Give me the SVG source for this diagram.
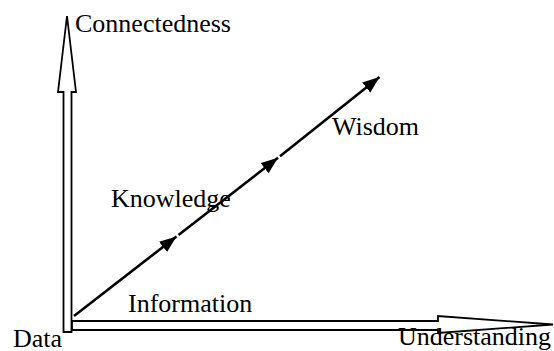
<svg xmlns="http://www.w3.org/2000/svg" width="554" height="351" viewBox="0 0 554 351">
  <style>
    .label { font-family: "Liberation Serif", "Times New Roman", serif; font-size: 26px; fill: #000; }
    .axis { fill: #fff; stroke: #000; stroke-width: 1.8; stroke-linejoin: miter; }
    .flow { stroke: #000; stroke-width: 2.6; fill: none; marker-end: url(#head); }
  </style>
  <defs>
    <marker id="head" markerUnits="userSpaceOnUse" markerWidth="18" markerHeight="14" refX="17" refY="6.5" orient="auto">
      <path d="M0,0 L17,6.5 L0,13 Z" fill="#000"/>
    </marker>
  </defs>

  <rect width="554" height="351" fill="#fff"/>

  <g id="connectors">
    <!-- hollow axis arrows -->
    <polygon id="axis-y" class="axis" points="63.5,332 63.5,92 58,92 67,16 76,92 71.5,92 71.5,332"/>
    <polygon id="axis-x" class="axis" points="72,321 438,321 438,316 553,324.5 438,333 438,330 72,330"/>
    <!-- progression line: data to wisdom -->
    <line class="flow" x1="74" y1="316" x2="176.5" y2="236.5"/>
    <line class="flow" x1="178.5" y1="235" x2="278" y2="157.8"/>
    <line class="flow" x1="280" y1="156.3" x2="379.5" y2="77"/>
  </g>

  <g id="connectedness"><text class="label" x="75" y="32">Connectedness</text></g>
  <g id="data"><text class="label" x="13" y="346.5">Data</text></g>
  <g id="information"><text class="label" x="128" y="311.5">Information</text></g>
  <g id="understanding"><text class="label" x="398" y="345">Understanding</text></g>
  <g id="knowledge"><text class="label" x="111" y="207">Knowledge</text></g>
  <g id="wisdom"><text class="label" x="332" y="135">Wisdom</text></g>
</svg>
